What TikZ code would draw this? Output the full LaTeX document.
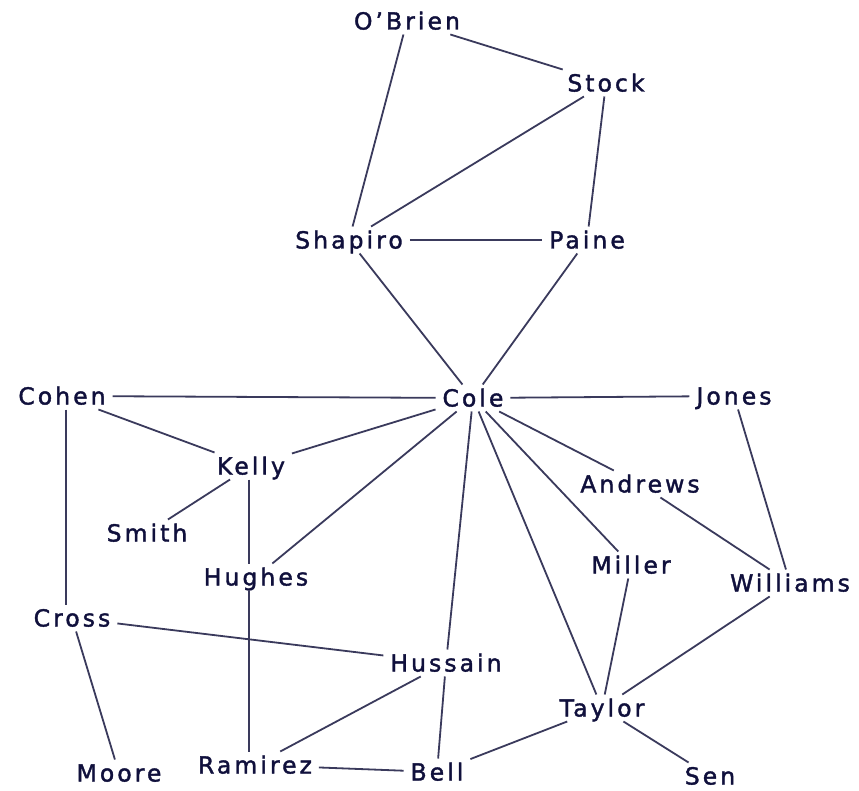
\documentclass[tikz,border=0pt]{standalone}
\usepackage{fontspec}
\setmainfont{DejaVu Sans}[LetterSpace=13, FakeBold=1.6]
\definecolor{txtc}{RGB}{16,16,60}
\definecolor{edgec}{RGB}{58,58,92}
\begin{document}
\begin{tikzpicture}[x=1pt,y=-1pt,
  person/.style={font=\fontsize{23.5}{26}\selectfont, text=txtc, inner xsep=7pt, inner ysep=5pt,
    text height=17pt, text depth=0pt, outer sep=0pt},
  tie/.style={draw=edgec, line width=1.8pt}]
\useasboundingbox[fill=white] (0,0) rectangle (859,791);
\node[person] (obrien)   at (407,21)  {O'Brien};
\node[person] (stock)    at (606,83)  {Stock};
\node[person] (shapiro)  at (349,240) {Shapiro};
\node[person] (paine)    at (587,240) {Paine};
\node[person] (cole)     at (473,398) {Cole};
\node[person] (cohen)    at (62,396)  {Cohen};
\node[person] (jones)    at (734,396) {Jones};
\node[person] (kelly)    at (251,466) {Kelly};
\node[person] (andrews)  at (640,484) {Andrews};
\node[person] (smith)    at (147,533) {Smith};
\node[person] (hughes)   at (256,577) {Hughes};
\node[person] (miller)   at (631,565) {Miller};
\node[person] (williams) at (790,583) {Williams};
\node[person] (cross)    at (72,618)  {Cross};
\node[person] (hussain)  at (446,663) {Hussain};
\node[person] (taylor)   at (602,708) {Taylor};
\node[person] (moore)    at (119,773) {Moore};
\node[person] (ramirez)  at (255,765) {Ramirez};
\node[person] (bell)     at (437,772) {Bell};
\node[person] (sen)      at (710,776) {Sen};
\foreach \a/\b in {obrien/stock, obrien/shapiro, stock/shapiro, stock/paine,
  shapiro/paine, shapiro/cole, paine/cole, cohen/cole, cole/jones, cohen/kelly,
  kelly/cole, kelly/smith, hughes/cole,
  cole/hussain, hussain/bell, cole/taylor, cole/andrews, cole/miller,
  andrews/williams, jones/williams, williams/taylor, miller/taylor, taylor/bell,
  taylor/sen, cross/hussain, cross/moore, hussain/ramirez, ramirez/bell}
  \draw[tie] (\a) -- (\b);
\draw[tie] ([xshift=4pt]cohen.south) -- ([xshift=-6pt]cross.north);
\draw[tie] ([xshift=-2pt]kelly.south) -- ([xshift=-7pt]hughes.north);
\draw[tie] ([xshift=-7pt]hughes.south) -- ([xshift=-6pt]ramirez.north);
\end{tikzpicture}
\end{document}
